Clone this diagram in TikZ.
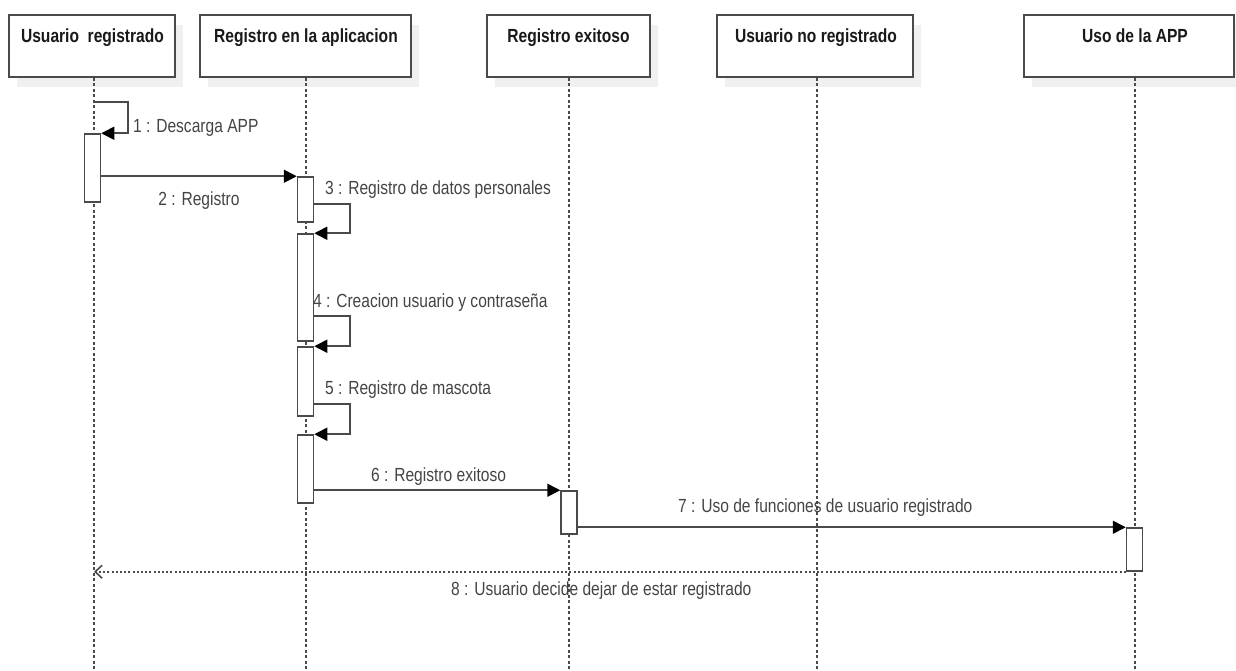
\documentclass[tikz,border=0pt]{standalone}
\usepackage{fontspec}
\setmainfont{Liberation Sans}[FakeStretch=0.82]
\usetikzlibrary{arrows.meta,shadows}
\definecolor{linegray}{HTML}{4A4A4A}
\definecolor{labelgray}{HTML}{444444}
\begin{document}
\begin{tikzpicture}[x=1pt,y=-1pt,
  headbox/.style={draw=linegray,line width=1.6pt,fill=white,rectangle,inner sep=0pt,
    drop shadow={shadow xshift=8pt,shadow yshift=-10pt,fill=black!6,opacity=1}},
  headtext/.style={anchor=base,inner sep=0pt,font=\fontsize{19}{22}\selectfont\bfseries,text=black!90},
  lifeline/.style={draw=linegray,line width=1.3pt,dash pattern=on 3pt off 2.5pt},
  actbox/.style={draw=linegray,line width=1.5pt,fill=white,rectangle,inner sep=0pt,minimum width=16pt},
  msg/.style={draw=linegray,line width=1.6pt,-{Triangle[length=13pt,width=13pt,color=black]}},
  reply/.style={draw=linegray,line width=1.6pt,dash pattern=on 2pt off 2.2pt,-{Straight Barb[length=7pt,width=13pt]}},
  msglabel/.style={anchor=base west,inner sep=0pt,font=\fontsize{19}{22}\selectfont,text=labelgray}]
\useasboundingbox (0,0) rectangle (1236,671);

% participant heads
\node[headbox,minimum width=166pt,minimum height=62pt] (h1) at (92,46) {};
\node[headbox,minimum width=211pt,minimum height=62pt] (h2) at (305.5,46) {};
\node[headbox,minimum width=163pt,minimum height=62pt] (h3) at (568.5,46) {};
\node[headbox,minimum width=196pt,minimum height=62pt] (h4) at (815,46) {};
\node[headbox,minimum width=210pt,minimum height=62pt] (h5) at (1129,46) {};
\node[headtext] (t1) at (92.5,43) {Usuario\ \ registrado};
\node[headtext] (t2) at (306,43) {Registro en la aplicacion};
\node[headtext] (t3) at (568.5,43) {Registro exitoso};
\node[headtext] (t4) at (816,43) {Usuario no registrado};
\node[headtext] (t5) at (1135,43) {Uso de la APP};

% lifelines
\coordinate (l1) at (94,671);
\coordinate (l2) at (306,671);
\coordinate (l3) at (569,671);
\coordinate (l4) at (817,671);
\coordinate (l5) at (1135,671);
\draw[lifeline] (h1.south -| l1) -- (l1);
\draw[lifeline] (h2.south -| l2) -- (l2);
\draw[lifeline] (h3.south -| l3) -- (l3);
\draw[lifeline] (h4.south -| l4) -- (l4);
\draw[lifeline] (h5.south -| l5) -- (l5);

% activation bars
\node[actbox,minimum height=68pt] (a1) at (92.5,168) {};
\node[actbox,minimum height=45pt] (a2) at (305.5,199.5) {};
\node[actbox,minimum height=107pt] (a3) at (305.5,287.5) {};
\node[actbox,minimum height=69pt] (a4) at (305.5,381.5) {};
\node[actbox,minimum height=68pt] (a5) at (305.5,469) {};
\node[actbox,minimum height=43pt] (a6) at (569,512.5) {};
\node[actbox,minimum height=43pt] (a7) at (1134.5,549.5) {};

% messages
\coordinate (s1) at (94,102);
\draw[msg] (s1) -- (128,102) |- (a1.north east);
\node[msglabel] (m1) at (133,133) {1 : Descarga APP};

\draw[msg] (a1.east |- a2.north) -- (a2.north west);
\node[msglabel,anchor=base] (m2) at (199,205) {2 : Registro};

\draw[msg] (a2.south east) ++(0,-19) -- ++(36,0) |- (a3.north east);
\node[msglabel] (m3) at (325,194) {3 : Registro de datos personales};

\draw[msg] (a3.south east) ++(0,-26) -- ++(36,0) |- (a4.north east);
\node[msglabel] (m4) at (313,307) {4 : Creacion usuario y contraseña};

\draw[msg] (a4.south east) ++(0,-13) -- ++(36,0) |- (a5.north east);
\node[msglabel] (m5) at (325,394) {5 : Registro de mascota};

\draw[msg] (a5.east |- a6.north) -- (a6.north west);
\node[msglabel] (m6) at (371,481) {6 : Registro exitoso};

\draw[msg] (a6.east |- a7.north) -- (a7.north west);
\node[msglabel] (m7) at (678,512) {7 : Uso de funciones de usuario registrado};

\draw[reply] (a7.south west) -- (a7.south west -| l1);
\node[msglabel] (m8) at (451,595) {8 : Usuario decide dejar de estar registrado};
\end{tikzpicture}
\end{document}
